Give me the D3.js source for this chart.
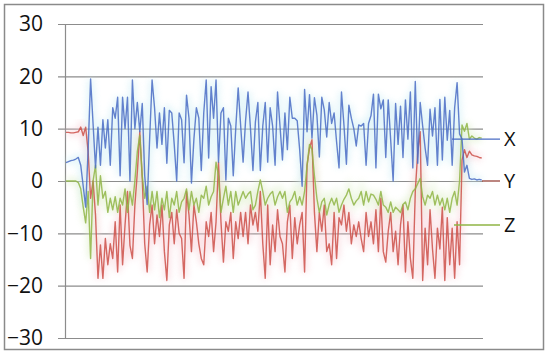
<!DOCTYPE html>
<html>
<head>
<meta charset="utf-8">
<script src="https://cdn.jsdelivr.net/npm/d3@7"></script>
<style>
  body { margin: 0; background: #fff; }
  svg { display: block; font-family: "Open Sans", "Liberation Sans", sans-serif; }
</style>
</head>
<body>
<div id="chart"></div>
<script>
// tick values on the left axis
const yTicks = [-30, -20, -10, 0, 10, 20, 30];

// series names for the legend
const seriesNames = ["X", "Y", "Z"];

// X series (blue)
const xValues = [
  3.5, 3.7, 3.9, 4.0, 4.2, 4.5, 3.0, -1, -5, 6,
  19.5, 11, 2.5, 10.3, 3, 11.7, 6.3, 11.7, 3, 14,
  12, 16, 1, 16, 10, 16, 0, 19.3, 10, 15,
  9.4, 14.8, 1, -4.5, 8, 19.3, 14, 6.3, 13, 7,
  14, 3.4, 13.5, 13, 7, 0, 13, 11.7, 3.5, 16.4,
  12, -0.4, 8, 14, 12, 2, 13, 19.3, 4.4, 18,
  12, 19.3, 3.6, 13, 14, 0.2, 12, 10.5, 1, 10,
  17.8, 10.6, 3.6, 11.5, 17, 10, 2, 11.3, 15, 2,
  10.5, 15, 3.6, 14, 10.5, 3, 17, 10.5, 4, 13,
  6, 16, 12, 12, 11.5, 6, -1, 17.5, 9.4, 16.5,
  8.2, 15.9, 12.6, 4.6, 16, 13.6, 8.4, 15, 11, 13,
  7.5, 2.5, 17, 10.7, 3.2, 14.5, 12, 10, 6.7, 10.7,
  10.5, 11, 3, 11, 12.5, 16.6, 2.5, 16.6, 13.8, 15.5,
  4.5, 15.5, 7.8, 0, 14.8, 7, 14.3, 4.5, 15.5, 8,
  17, 2.5, 19, 3.4, 15, 10.5, 6.3, 3, 13.7, 8.6,
  14, 3, 15.6, 4, 16, 7.8, 13.5, 3, 14, 18.8,
  9, 8, 1.7, 3, 0.5, 0.3, 0.4, 0.2, 0.3, 0.2
];

// Y series (red)
const yValues = [
  9.3, 9.3, 9.2, 9.2, 9.3, 9.4, 10.3, 8.7, 10.3, 5.6,
  -3.3, 0, -6.5, -18.6, -12.2, -18.6, -11, -16, -12, -14.8,
  -7.8, -17.4, -4.6, -16, -8.4, -2, -12.3, -14.8, -4.6, 1.7,
  9.4, 0.5, -12, -17.4, -8.4, -4.6, -12, -6.5, -10.6, -4.6,
  -13.5, -19, -8.4, -6, -12, -5.5, -10, -11, -18.6, -2,
  -6.5, -13.5, -4.6, -7.8, -12, -14.8, -16, -7.8, -10.6, -6,
  -13.5, -7.8, 3.6, -7.8, -15.5, -7.8, -9.6, -6, -14.8, -7.8,
  -11, -6, -10.6, -6, -12, -4.6, -8.4, -6, -9.6, -2,
  -12, -18.6, -4.6, -16, -8.4, -13.5, -5.5, -10.6, -12, -17.4,
  -7.8, -4.6, -14.8, -7, -12, -8.4, -6, -17.4, 3, 6.3,
  7.9, -6, -13.5, -6, -9.6, -4.6, -13.5, -12, -16, -6,
  -14.8, -7, -8.4, -4.6, -9.6, -6, -12, -8.4, -10.6, -7.8,
  -11, -13.5, -6, -10.6, -7.8, -12, -5.5, -13.5, -3.3, -13.5,
  -15.5, -9.6, -6, -13.5, -9.6, -16, -8.4, -4.6, -17.4, -7.8,
  -14.8, -18.6, -2, 5.6, 9.4, -19, -9, -16, -5.5, -13,
  -18.6, -9, -13, -5, -19, -7, -16, -9, -18.6, -7.8,
  -16, 4, 6, 4.5, 5.7, 5, 4.8, 4.7, 4.5, 4.4
];

// Z series (green)
const zValues = [
  0, 0, 0, 0, 0, -0.3, -1.5, -5, -8, -2,
  -14.8, 0, 3, -4.6, 1, -3.3, -2, -6, -3.3, -5.5,
  -3, -6, -3.3, -4.6, -1.5, -6, -2, -4.6, 0, 5.6,
  8.7, 1, -3.3, -1, -6, -2, -5.5, -2, -7, -3.3,
  -5.5, -2, -7, -3.3, -4.6, -2, -6, -4, -3.3, -1.5,
  -5.5, -2, -4.6, -3.3, -6, -2.7, -3.3, -1, -4.6, -3,
  -2, 3.6, 1, -6, -3.3, -1, -4.6, -2, -6, -2,
  -4.6, -3.3, -2, -3.3, -2.5, -2, -5.5, -4.6, -2, 0.2,
  -2, -4.6, -3.3, -2.5, -2, -4.6, -3, -2, -3.3, -2,
  -6, -4, -3.3, -2, -4.6, -3, -4.6, -2, 3, 7,
  6, 1, -3.3, -6, -4, -3.3, -6.5, -4.5, -3.3, -4.6,
  -3.3, -6, -4.6, -3.5, -2.7, -1.5, -3.3, -4.6, -3.8, -3.3,
  -2, -4.6, -2, -4, -2.5, -2.7, -3.5, -4.6, -2, -4.6,
  -5, -6, -4, -6, -5, -5.5, -6, -4.5, -4, -5.5,
  -3.3, -2, -1.5, -0.5, 0.5, -3, -4.6, -2.7, -3.3, -2,
  -4.6, -2.7, -4.6, -3.3, -5.5, -3.3, -6, -3.3, -2, -4.6,
  0, 10.7, 9.5, 11, 8, 8.6, 8.2, 8, 8.3, 8.2
];

function drawChart(id) {
  const w = 550;
  const h = 364;
  const plot = { left: 58, right: 483, top: 24, bottom: 338 };

  const svg = d3
    .select(`#${id}`)
    .append("svg")
    .attr("width", w)
    .attr("height", h);

  // outer frame
  svg.append("rect")
    .attr("x", 4.5)
    .attr("y", 4.5)
    .attr("width", 539)
    .attr("height", 345)
    .attr("fill", "#fff")
    .attr("stroke", "#8a8a8a")
    .attr("stroke-width", 1.5);

  const xScale = d3
    .scaleLinear()
    .domain([0, xValues.length - 1])
    .range([66, 481.7]);

  const yScale = d3
    .scaleLinear()
    .domain([-30, 30])
    .range([plot.bottom, plot.top]);

  // gridlines + tick labels
  const yAxis = svg.append("g")
    .attr("transform", `translate(${plot.left},0)`)
    .call(
      d3.axisLeft(yScale)
        .tickValues(yTicks)
        .tickSize(-(plot.right - plot.left))
        .tickPadding(15)
    );
  yAxis.select(".domain").remove();
  yAxis.selectAll(".tick line").attr("stroke", "#8c8c8c").attr("stroke-width", 1.2);
  yAxis.selectAll(".tick text")
    .attr("fill", "#111")
    .style("font-size", "21px")
    .style("font-family", "'Open Sans', 'Liberation Sans', sans-serif");

  // vertical axis line
  svg.append("line")
    .attr("x1", 65.5)
    .attr("x2", 65.5)
    .attr("y1", yScale(30))
    .attr("y2", yScale(-30))
    .attr("stroke", "#8c8c8c")
    .attr("stroke-width", 1.2);

  const series = [
    { name: "Y", values: yValues, color: "#cc5049", haze: "#f7c8d0" },
    { name: "Z", values: zValues, color: "#8fb545", haze: "#d8ecc0" },
    { name: "X", values: xValues, color: "#4a6cc4", haze: "#c8ecf4" },
  ];

  const line = d3
    .line()
    .x((d, i) => xScale(i))
    .y((d) => yScale(d));

  // soft halo round the traces (like the blur in the picture)
  const defs = svg.append("defs");
  defs.append("filter")
    .attr("id", "blur")
    .attr("x", "-5%").attr("y", "-5%").attr("width", "110%").attr("height", "110%")
    .append("feGaussianBlur")
    .attr("stdDeviation", 3);

  series.forEach((s) => {
    svg.append("path")
      .datum(s.values)
      .attr("d", line)
      .attr("fill", "none")
      .attr("stroke", s.haze)
      .attr("stroke-width", 7)
      .attr("opacity", 0.45)
      .attr("filter", "url(#blur)");
  });

  series.forEach((s) => {
    svg.append("path")
      .datum(s.values)
      .attr("d", line)
      .attr("fill", "none")
      .attr("stroke", s.color)
      .attr("stroke-width", 1.4)
      .attr("stroke-linejoin", "round")
      .attr("opacity", 0.85);
  });

  // legend lines with labels on the right
  const legend = [
    { name: seriesNames[0], value: 8, x1: 452, color: "#4a6cc4" },
    { name: seriesNames[1], value: 0, x1: 482, color: "#a0524a" },
    { name: seriesNames[2], value: -8.4, x1: 454, color: "#8fb545" },
  ];
  legend.forEach((l) => {
    svg.append("line")
      .attr("x1", l.x1)
      .attr("x2", 500)
      .attr("y1", yScale(l.value))
      .attr("y2", yScale(l.value))
      .attr("stroke", l.color)
      .attr("stroke-width", 1.4);
    svg.append("text")
      .attr("x", 504)
      .attr("y", yScale(l.value))
      .attr("dy", "0.36em")
      .attr("fill", "#111")
      .style("font-size", "20px")
      .text(l.name);
  });
}

document.addEventListener("DOMContentLoaded", function () {
  drawChart("chart");
});
</script>
</body>
</html>
